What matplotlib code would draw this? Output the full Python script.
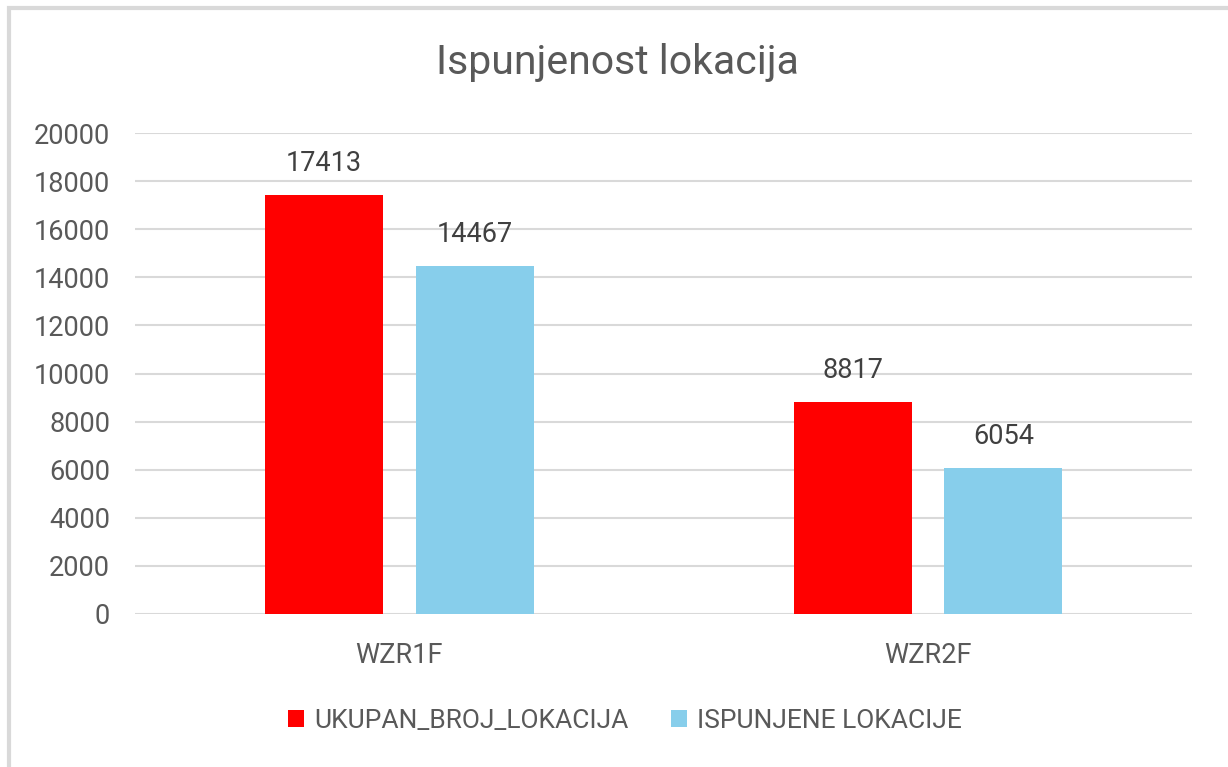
import numpy as np
import matplotlib.pyplot as plt
from matplotlib.patches import Rectangle

categories = ['WZR1F', 'WZR2F']
ukupan = [17413, 8817]
ispunjene = [14467, 6054]
series_names = ['UKUPAN_BROJ_LOKACIJA', 'ISPUNJENE LOKACIJE']
yticks = list(range(0, 20001, 2000))

plt.rcParams['font.family'] = ['Roboto', 'DejaVu Sans']

fig = plt.figure(figsize=(12.28, 7.67), dpi=100)
ax = fig.add_axes([0.110, 0.1995, 0.861, 0.627])

x = np.arange(len(categories))
w = 0.223
off = 0.1425
b1 = ax.bar(x - off, ukupan, w, color='#ff0000', label=series_names[0], zorder=3)
b2 = ax.bar(x + off, ispunjene, w, color='#87ceeb', label=series_names[1], zorder=3)

for bars in (b1, b2):
    for r in bars:
        ax.annotate('{:d}'.format(int(r.get_height())),
                    (r.get_x() + r.get_width() / 2, r.get_height()),
                    xytext=(0, 13), textcoords='offset points',
                    ha='center', va='bottom', fontsize=19.5, color='#404040')

ax.set_xlim(-0.5, 1.5)
ax.set_ylim(0, 20000)
ax.set_yticks(yticks)
ax.set_xticks(x)
ax.set_xticklabels(categories)
ax.tick_params(axis='both', length=0, labelsize=19.5, colors='#595959')
ax.tick_params(axis='x', pad=20)
ax.tick_params(axis='y', pad=18)
ax.yaxis.grid(True, color='#d9d9d9', linewidth=1.5, zorder=0)
for s in ax.spines.values():
    s.set_visible(False)

fig.text(0.503, 0.918, 'Ispunjenost lokacija', ha='center', va='center',
         fontsize=29.5, color='#595959')

leg = fig.legend(loc='center', bbox_to_anchor=(0.509, 0.06), ncol=2, frameon=False,
                 fontsize=19, handlelength=0.6, handleheight=0.6,
                 columnspacing=1.6, handletextpad=0.4)
for t in leg.get_texts():
    t.set_color('#595959')

fig.patches.append(Rectangle((0.007, -0.01), 1.0, 1.0, transform=fig.transFigure,
                             fill=False, edgecolor='#d9d9d9', linewidth=3))

plt.savefig('out.png', dpi=100)
